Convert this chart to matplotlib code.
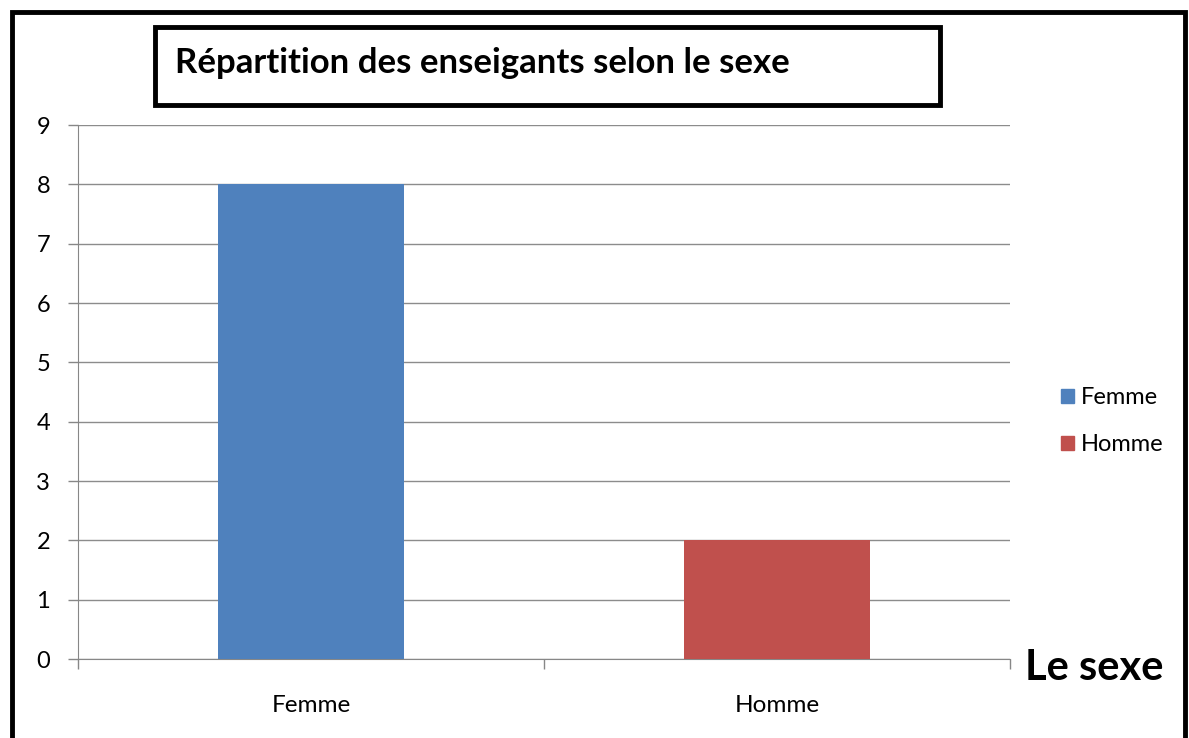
import matplotlib.pyplot as plt
from matplotlib.patches import Rectangle, Patch

# Données
categories = ['Femme', 'Homme']
effectifs = [8, 2]
couleurs = ['#4F81BD', '#C0504D']
y_ticks = [0, 1, 2, 3, 4, 5, 6, 7, 8, 9]

W, H = 1189, 738
plt.rcParams['font.family'] = ['Lato', 'DejaVu Sans']

fig = plt.figure(figsize=(W / 100, H / 100), dpi=100)

# cadre extérieur
fig.patches.append(Rectangle((12 / W, -0.05), (1185 - 12) / W, 1.05 - 12 / H,
                             transform=fig.transFigure, fill=False,
                             edgecolor='black', linewidth=3.5, zorder=0))

ax = fig.add_axes([78 / W, 1 - 659 / H, (1010 - 78) / W, (659 - 125) / H])
x = list(range(len(categories)))
ax.bar(x, effectifs, width=0.4, color=couleurs, zorder=3)

ax.set_xlim(-0.5, len(categories) - 0.5)
ax.set_ylim(0, 9)
ax.set_yticks(y_ticks)
ax.set_xticks([-0.5, 0.5, 1.5])
ax.set_xticklabels([])
ax.set_xticks(x, minor=True)
ax.set_xticklabels(categories, minor=True)
ax.tick_params(axis='x', which='minor', length=0, pad=26, labelsize=17.5)
ax.tick_params(axis='x', which='major', length=7, color='#878787', width=1)
ax.tick_params(axis='y', length=7, color='#878787', width=1, labelsize=17, pad=13)
ax.yaxis.grid(True, color='#8c8c8c', linewidth=1, zorder=0)
for s in ['top', 'right']:
    ax.spines[s].set_visible(False)
ax.spines['left'].set_color('#878787')
ax.spines['bottom'].set_color('#878787')

# titre encadré
fig.patches.append(Rectangle((155 / W, 1 - 105 / H), (940 - 155) / W, (105 - 27) / H,
                             transform=fig.transFigure, fill=False,
                             edgecolor='black', linewidth=3.5))
fig.text(175 / W, 1 - 63 / H, 'Répartition des enseigants selon le sexe',
         fontsize=25, fontweight='bold', va='center', ha='left')

fig.text(1025 / W, 1 - 668 / H, 'Le sexe', fontsize=30, fontweight='bold',
         va='center', ha='left')

handles = [Patch(color=c, label=l) for c, l in zip(couleurs, categories)]
fig.legend(handles=handles, loc='center left', bbox_to_anchor=(1040 / W, 1 - 421 / H),
           frameon=False, fontsize=17, handlelength=0.55, handleheight=0.55,
           handletextpad=0.3, labelspacing=1.1)

fig.savefig('out.png', dpi=100)
